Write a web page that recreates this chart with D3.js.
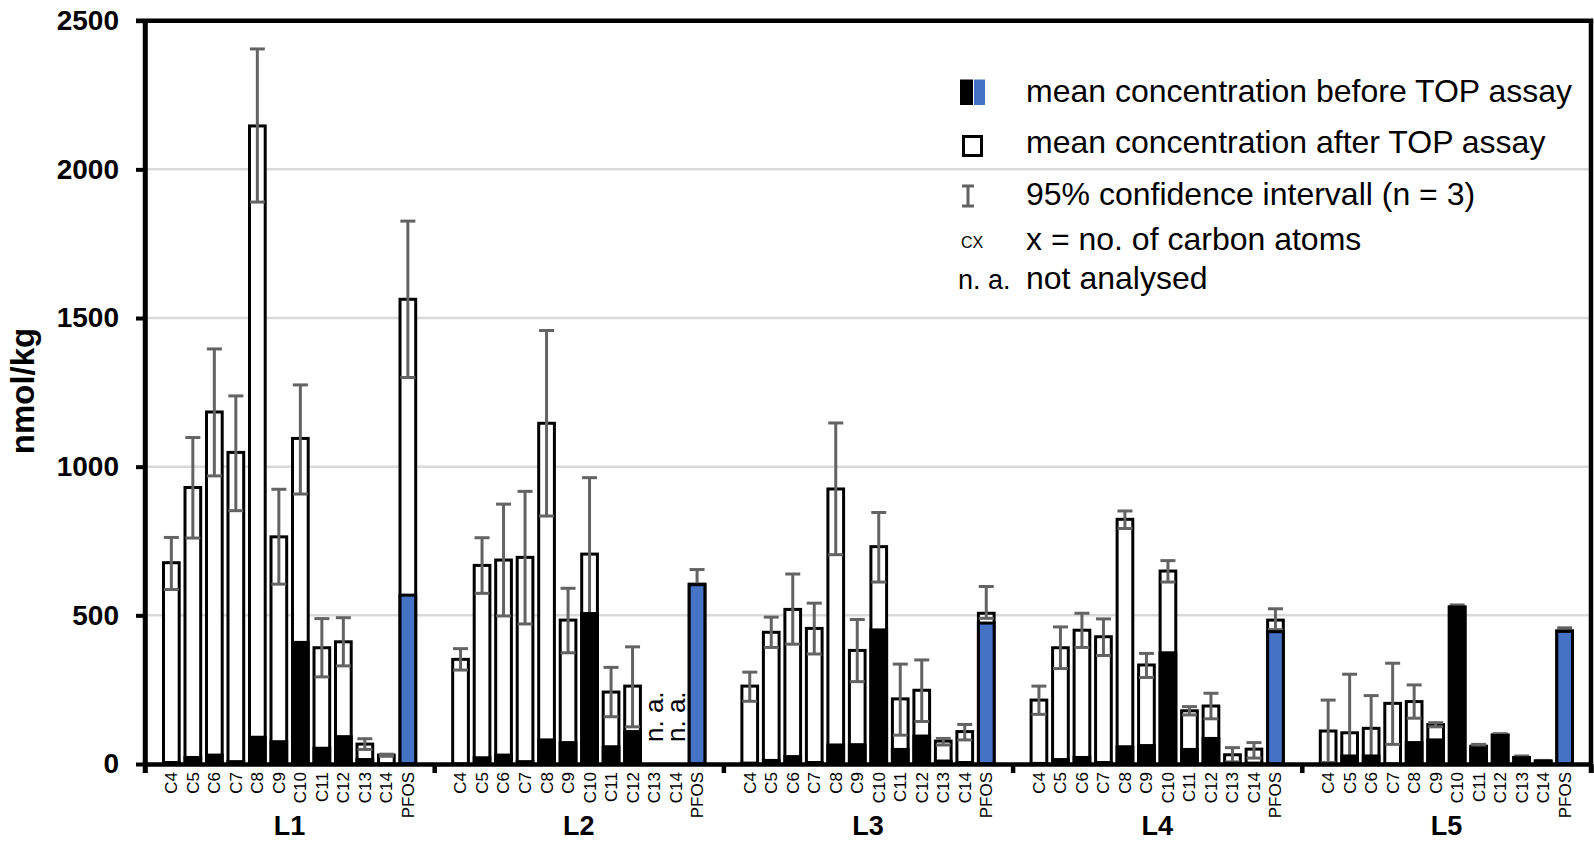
<!DOCTYPE html>
<html>
<head>
<meta charset="utf-8">
<script src="https://cdn.jsdelivr.net/npm/d3@7/dist/d3.min.js"></script>
<style>
  html, body { margin: 0; padding: 0; background: #fff; }
  svg { display: block; font-family: "Liberation Sans", Arial, sans-serif; }
</style>
</head>
<body>
<script>
// ---------------- data ----------------
const groups = ["L1", "L2", "L3", "L4", "L5"];
const compounds = ["C4", "C5", "C6", "C7", "C8", "C9", "C10", "C11", "C12", "C13", "C14", "PFOS"];
const yTicks = [0, 500, 1000, 1500, 2000, 2500];

// mean concentration after TOP assay (nmol/kg), one row per site; null = not analysed
const afterTOP = [
  [677, 930, 1184, 1048, 2146, 764, 1095, 391, 411, 67, 30, 1563],
  [352, 668, 686, 695, 1146, 484, 706, 242, 262, null, null, 605],
  [262, 443, 520, 456, 925, 382, 731, 219, 248, 77, 109, 507],
  [215, 391, 450, 428, 823, 333, 649, 179, 195, 31, 50, 484],
  [111, 105, 120, 204, 210, 133, 528, 60, 98, 22, 10, 448]
];
// mean concentration before TOP assay (nmol/kg)
const beforeTOP = [
  [5, 22, 30, 8, 90, 75, 409, 53, 92, 15, 0, 568],
  [0, 21, 30, 8, 81, 72, 506, 58, 109, null, null, 603],
  [3, 12, 25, 5, 64, 65, 451, 49, 94, 10, 5, 474],
  [2, 15, 22, 5, 58, 62, 374, 49, 86, 3, 3, 445],
  [0, 27, 27, 0, 72, 81, 528, 54, 96, 21, 10, 446]
];
// 95% confidence interval of the after-TOP mean
const ciLow = [
  [587, 760, 969, 852, 1890, 605, 908, 293, 330, 49, 26, 1300],
  [316, 574, 498, 471, 834, 374, 449, 159, 125, null, null, 556],
  [211, 392, 403, 370, 704, 277, 612, 97, 143, 64, 81, 490],
  [167, 321, 392, 365, 792, 291, 612, 165, 152, 7, 20, 452],
  [5, 3, 25, 66, 154, 125, 522, 56, 94, 18, 9, 440]
];
const ciHigh = [
  [762, 1098, 1396, 1238, 2405, 924, 1275, 489, 492, 85, 33, 1826],
  [388, 761, 874, 917, 1458, 591, 963, 325, 394, null, null, 654],
  [309, 494, 639, 541, 1147, 486, 846, 336, 350, 86, 133, 597],
  [262, 461, 507, 488, 851, 372, 684, 193, 238, 55, 72, 522],
  [215, 302, 230, 339, 266, 139, 535, 66, 102, 27, 12, 458]
];

const legendItems = [
  "mean concentration before TOP assay",
  "mean concentration after TOP assay",
  "95% confidence intervall (n = 3)",
  "x = no. of carbon atoms",
  "not analysed"
];

// ---------------- layout ----------------
const W = 1594, H = 845;
const plotLeft = 145, plotRight = 1591, plotTop = 20.7, plotBase = 764;
const blue = "#4472C4", errGrey = "#636363", gridGrey = "#d9d9d9";

const svg = d3.select("body").append("svg").attr("width", W).attr("height", H);

const y = d3.scaleLinear().domain([0, 2500]).range([plotBase, plotTop]);
const xGroup = d3.scaleBand().domain(groups).range([plotLeft, plotRight]).padding(0);
const xInner = d3.scaleBand().domain(compounds).range([0, xGroup.bandwidth()])
  .paddingInner(0.27).paddingOuter(0.86);
const bw = xInner.bandwidth();

const rows = groups.flatMap((g, gi) => compounds.map((c, ci) => ({
  g, c,
  after: afterTOP[gi][ci], before: beforeTOP[gi][ci],
  lo: ciLow[gi][ci], hi: ciHigh[gi][ci]
})));
const bx = d => xGroup(d.g) + xInner(d.c);
const cx = d => bx(d) + bw / 2;

// gridlines
svg.append("g").selectAll("line")
  .data(yTicks.filter(v => v > 0 && v < 2500))
  .join("line")
  .attr("x1", plotLeft).attr("x2", plotRight)
  .attr("y1", d => y(d)).attr("y2", d => y(d))
  .attr("stroke", gridGrey).attr("stroke-width", 2.5);

// after TOP bars (white)
svg.append("g").selectAll("rect")
  .data(rows.filter(d => d.after != null))
  .join("rect")
  .attr("x", bx).attr("width", bw)
  .attr("y", d => y(d.after)).attr("height", d => y(0) - y(d.after))
  .attr("fill", "#fff").attr("stroke", "#000").attr("stroke-width", 3);

// error bars
const eb = svg.append("g").attr("stroke", errGrey).attr("stroke-width", 3)
  .selectAll("g").data(rows.filter(d => d.lo != null)).join("g");
eb.append("line").attr("x1", cx).attr("x2", cx)
  .attr("y1", d => y(d.lo)).attr("y2", d => y(d.hi));
eb.append("line").attr("x1", d => cx(d) - 7.5).attr("x2", d => cx(d) + 7.5)
  .attr("y1", d => y(d.hi)).attr("y2", d => y(d.hi));
eb.append("line").attr("x1", d => cx(d) - 7.5).attr("x2", d => cx(d) + 7.5)
  .attr("y1", d => y(d.lo)).attr("y2", d => y(d.lo));

// before TOP bars (black / blue for PFOS)
svg.append("g").selectAll("rect")
  .data(rows.filter(d => d.before != null && d.before > 0))
  .join("rect")
  .attr("x", bx).attr("width", bw)
  .attr("y", d => y(d.before)).attr("height", d => y(0) - y(d.before))
  .attr("fill", d => d.c === "PFOS" ? blue : "#000")
  .attr("stroke", "#000").attr("stroke-width", 3);

// n. a. labels
svg.append("g").selectAll("text")
  .data(rows.filter(d => d.after == null))
  .join("text")
  .attr("transform", d => `translate(${cx(d)},742) rotate(-90)`)
  .attr("dy", "0.35em")
  .attr("font-size", 26)
  .text("n. a.");

// y axis
const yAxis = svg.append("g").attr("transform", `translate(${plotLeft},0)`)
  .call(d3.axisLeft(y).tickValues(yTicks).tickFormat(d3.format("d"))
    .tickSize(9).tickSizeOuter(0).tickPadding(17));
yAxis.select(".domain").attr("stroke-width", 4.5);
yAxis.selectAll(".tick line").attr("stroke-width", 4);
yAxis.selectAll(".tick text").attr("font-size", 28).attr("font-weight", "bold")
  .attr("font-family", "Liberation Sans, Arial, sans-serif").attr("fill", "#000");

// x axis: group boundary ticks
const xb = d3.scaleLinear().domain([0, groups.length]).range([plotLeft, plotRight]);
const xAxis = svg.append("g").attr("transform", `translate(0,${plotBase})`)
  .call(d3.axisBottom(xb).tickValues(d3.range(groups.length + 1)).tickFormat("").tickSize(9).tickSizeOuter(0));
xAxis.select(".domain").attr("stroke-width", 4.5);
xAxis.selectAll(".tick line").attr("stroke-width", 4.5);

// compound labels per group
groups.forEach(g => {
  const ax = svg.append("g").attr("transform", `translate(${xGroup(g)},${plotBase})`)
    .call(d3.axisBottom(xInner).tickSize(0));
  ax.select(".domain").remove();
  ax.selectAll(".tick text")
    .attr("transform", "rotate(-90)")
    .attr("x", -8).attr("y", 0).attr("dy", "0.35em")
    .attr("text-anchor", "end")
    .attr("font-size", 17)
    .attr("font-family", "Liberation Sans, Arial, sans-serif").attr("fill", "#000");
});

// group labels
const gAx = svg.append("g").attr("transform", `translate(0,${plotBase})`)
  .call(d3.axisBottom(xGroup).tickSize(0));
gAx.select(".domain").remove();
gAx.selectAll(".tick text").attr("y", 71).attr("dy", 0)
  .attr("font-size", 27).attr("font-weight", "bold")
  .attr("font-family", "Liberation Sans, Arial, sans-serif").attr("fill", "#000");

// frame: top, right, left extension
svg.append("line").attr("x1", plotLeft - 9).attr("x2", plotRight + 2.25)
  .attr("y1", y(2500)).attr("y2", y(2500)).attr("stroke", "#000").attr("stroke-width", 4.5);
svg.append("line").attr("x1", plotRight).attr("x2", plotRight)
  .attr("y1", y(2500)).attr("y2", plotBase + 9).attr("stroke", "#000").attr("stroke-width", 4.5);
svg.append("line").attr("x1", plotLeft).attr("x2", plotLeft)
  .attr("y1", y(2500)).attr("y2", plotBase + 9).attr("stroke", "#000").attr("stroke-width", 4.5);

// y label
svg.append("text").attr("transform", "translate(34,391) rotate(-90)")
  .attr("text-anchor", "middle").attr("font-size", 33).attr("font-weight", "bold")
  .text("nmol/kg");

// ---------------- legend ----------------
const lg = svg.append("g");
const textX = 1026;
const baselines = [102, 153, 205, 250, 289];
lg.append("rect").attr("x", 960).attr("y", 79.5).attr("width", 13).attr("height", 25.5).attr("fill", "#000");
lg.append("rect").attr("x", 974).attr("y", 79.5).attr("width", 11).attr("height", 25.5).attr("fill", blue);
lg.append("rect").attr("x", 963.5).attr("y", 136.5).attr("width", 18).attr("height", 19)
  .attr("fill", "#fff").attr("stroke", "#000").attr("stroke-width", 3);
const es = lg.append("g").attr("stroke", errGrey).attr("stroke-width", 3);
es.append("line").attr("x1", 968).attr("x2", 968).attr("y1", 186).attr("y2", 206);
es.append("line").attr("x1", 962).attr("x2", 974).attr("y1", 186).attr("y2", 186);
es.append("line").attr("x1", 962).attr("x2", 974).attr("y1", 206).attr("y2", 206);
lg.append("text").attr("x", 961).attr("y", 248).attr("font-size", 16).text("CX");
lg.append("text").attr("x", 958).attr("y", 289).attr("font-size", 27).text("n. a.");

lg.selectAll("text.item").data(legendItems).join("text").attr("class", "item")
  .attr("x", textX)
  .attr("y", (d, i) => baselines[i])
  .attr("font-size", 32)
  .text(d => d);
</script>
</body>
</html>
